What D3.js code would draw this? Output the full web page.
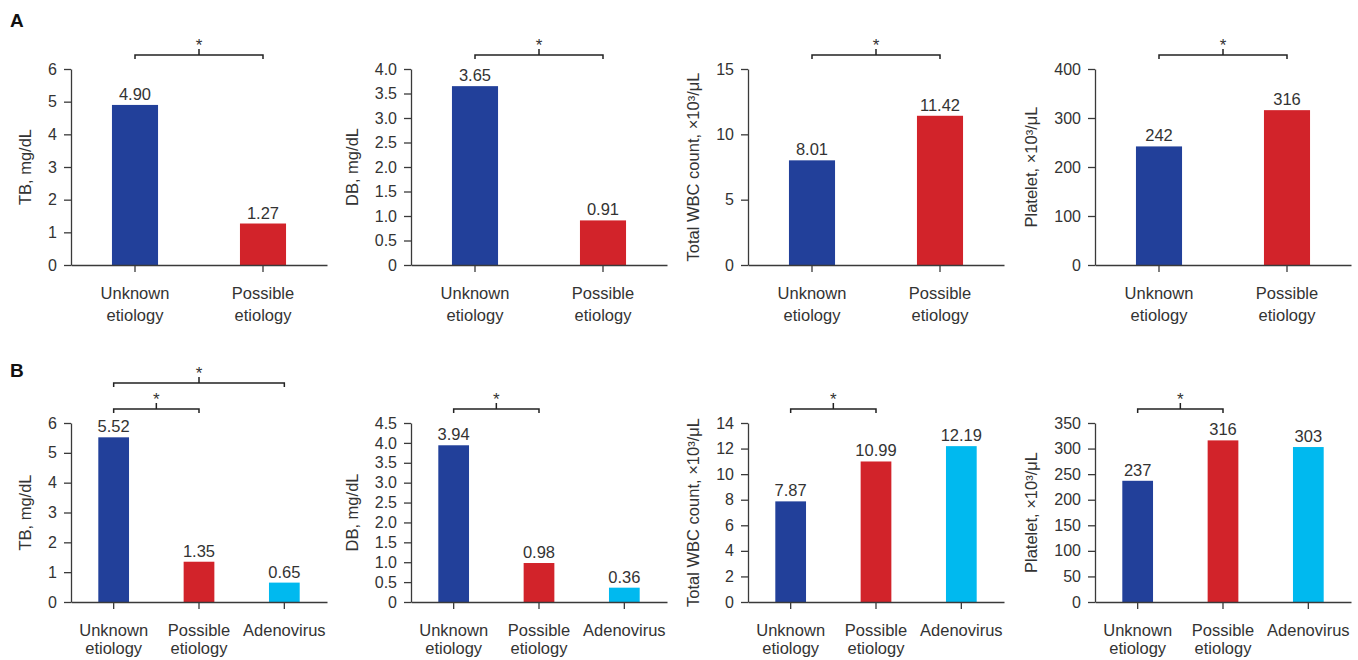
<!DOCTYPE html>
<html>
<head>
<meta charset="utf-8">
<script src="https://cdn.jsdelivr.net/npm/d3@7.9.0/dist/d3.min.js"></script>
<style>
  body { margin: 0; background: #fff; }
  svg { font-family: "Liberation Sans", Arial, sans-serif; }
  .tick text { font-size: 16px; fill: #333; }
  .tick line, .domain { stroke: #3a3a3a; stroke-width: 1.3; }
  .ylabel { font-size: 16.5px; fill: #333; }
  .cat { font-size: 16.5px; fill: #333; }
  .val { font-size: 16.5px; fill: #333; }
  .star { font-size: 17px; fill: #333; }
  .letter { font-size: 19px; font-weight: bold; fill: #111; }
</style>
</head>
<body>
<svg id="chart" width="1358" height="660"></svg>
<script>
// data
const groups2 = ['Unknown etiology', 'Possible etiology'];
const groups3 = ['Unknown etiology', 'Possible etiology', 'Adenovirus'];
const measures = ['TB, mg/dL', 'DB, mg/dL', 'Total WBC count, ×10³/μL', 'Platelet, ×10³/μL'];
const valueDecimals = [2, 2, 2, 0];
const tickDecimals = [0, 1, 0, 0];

const valuesA = [[4.90, 1.27], [3.65, 0.91], [8.01, 11.42], [242, 316]];
const ticksA = [
    [0, 1, 2, 3, 4, 5, 6],
    [0, 0.5, 1, 1.5, 2, 2.5, 3, 3.5, 4],
    [0, 5, 10, 15],
    [0, 100, 200, 300, 400]
];
// [panel, from group, to group, level]
const bracketsA = [[0, 0, 1, 0], [1, 0, 1, 0], [2, 0, 1, 0], [3, 0, 1, 0]];

const valuesB = [[5.52, 1.35, 0.65], [3.94, 0.98, 0.36], [7.87, 10.99, 12.19], [237, 316, 303]];
const ticksB = [
    [0, 1, 2, 3, 4, 5, 6],
    [0, 0.5, 1, 1.5, 2, 2.5, 3, 3.5, 4, 4.5],
    [0, 2, 4, 6, 8, 10, 12, 14],
    [0, 50, 100, 150, 200, 250, 300, 350]
];
const bracketsB = [[0, 0, 1, 0], [0, 0, 2, 1], [1, 0, 1, 0], [2, 0, 1, 0], [3, 0, 1, 0]];

const colors = ['#22409a', '#d2232a', '#00b9ef'];

const colLeft = [71, 411, 748, 1095];
const plotWidth = 256;

const rows = [
    { letter: 'A', letterY: 27, top: 69, bottom: 265, groups: groups2, values: valuesA, ticks: ticksA, brackets: bracketsA, lineGap: 22 },
    { letter: 'B', letterY: 377, top: 423, bottom: 602, groups: groups3, values: valuesB, ticks: ticksB, brackets: bracketsB, lineGap: 18 }
];

const svg = d3.select('#chart');

rows.forEach((row) => {
    svg.append('text').attr('class', 'letter').attr('x', 10).attr('y', row.letterY).text(row.letter);

    row.values.forEach((vals, p) => {
        const left = colLeft[p];
        const tks = row.ticks[p];

        const x = d3.scaleBand().domain(row.groups).range([left, left + plotWidth]).padding(0);
        const y = d3.scaleLinear().domain([0, d3.max(tks)]).range([row.bottom, row.top]);
        const barW = x.bandwidth() * 0.36;
        const cx = (g) => x(g) + x.bandwidth() / 2;

        const g = svg.append('g');

        // bars
        g.selectAll('rect')
            .data(vals)
            .join('rect')
            .attr('x', (d, i) => cx(row.groups[i]) - barW / 2)
            .attr('y', (d) => y(d))
            .attr('width', barW)
            .attr('height', (d) => row.bottom - y(d))
            .attr('fill', (d, i) => colors[i]);

        // value labels
        g.selectAll('.val')
            .data(vals)
            .join('text')
            .attr('class', 'val')
            .attr('x', (d, i) => cx(row.groups[i]))
            .attr('y', (d) => y(d) - 5)
            .attr('text-anchor', 'middle')
            .text((d) => d.toFixed(valueDecimals[p]));

        // y axis
        const yAxis = g.append('g')
            .attr('transform', `translate(${left},0)`)
            .call(d3.axisLeft(y)
                .tickValues(tks)
                .tickSize(7)
                .tickSizeOuter(0)
                .tickPadding(7)
                .tickFormat((d) => (d === 0 ? '0' : d.toFixed(tickDecimals[p]))));

        // x axis
        const xAxis = g.append('g')
            .attr('transform', `translate(0,${row.bottom})`)
            .call(d3.axisBottom(x).tickSize(7).tickSizeOuter(0).tickFormat(''));
        xAxis.selectAll('.tick text').remove();

        // category labels, two lines
        row.groups.forEach((name) => {
            const words = name.split(' ');
            const t = g.append('text')
                .attr('class', 'cat')
                .attr('text-anchor', 'middle')
                .attr('x', cx(name))
                .attr('y', row.bottom + 34);
            words.forEach((w, k) => {
                t.append('tspan')
                    .attr('x', cx(name))
                    .attr('dy', k === 0 ? 0 : row.lineGap)
                    .text(w);
            });
        });

        // y label placed left of the tick labels
        let minX = Infinity;
        yAxis.selectAll('.tick text').each(function () {
            const b = this.getBBox();
            minX = Math.min(minX, b.x + left);
        });
        g.append('text')
            .attr('class', 'ylabel')
            .attr('text-anchor', 'middle')
            .attr('transform', `translate(${minX - 23},${(row.top + row.bottom) / 2}) rotate(-90)`)
            .attr('dy', '0.35em')
            .text(measures[p]);

        // significance brackets
        row.brackets.filter((b) => b[0] === p).forEach(([, a, b, level]) => {
            const by = row.top - 14 - level * 26;
            const x1 = cx(row.groups[a]);
            const x2 = cx(row.groups[b]);
            const xm = (x1 + x2) / 2;
            g.append('path')
                .attr('d', `M${x1},${by + 4}V${by}H${x2}V${by + 4}M${xm},${by}V${by - 6}`)
                .attr('fill', 'none')
                .attr('stroke', '#222')
                .attr('stroke-width', 1.5);
            g.append('text')
                .attr('class', 'star')
                .attr('text-anchor', 'middle')
                .attr('x', xm)
                .attr('y', by - 4)
                .text('*');
        });
    });
});
</script>
</body>
</html>
